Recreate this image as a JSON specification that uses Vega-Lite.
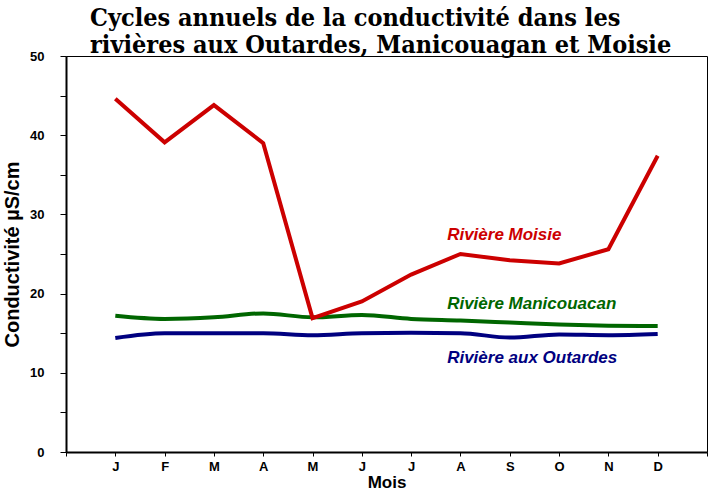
{
  "$schema": "https://vega.github.io/schema/vega-lite/v6.json",
  "width": 641,
  "height": 396,
  "autosize": {"type": "none"},
  "padding": {"left": 66, "top": 56, "right": 4, "bottom": 38},
  "background": "white",
  "title": {
    "text": ["Cycles annuels de la conductivité dans les", "rivières aux Outardes, Manicouagan et Moisie"],
    "anchor": "start",
    "frame": "group",
    "dx": 24,
    "offset": -8,
    "font": "DejaVu Serif Condensed",
    "fontSize": 25,
    "fontWeight": "bold",
    "color": "black",
    "lineHeight": 27
  },
  "config": {
    "view": {"stroke": "black", "strokeWidth": 1},
    "axis": {"grid": false, "domainColor": "black", "domainWidth": 2, "tickColor": "black", "labelColor": "black", "titleColor": "black", "labelFont": "Liberation Sans", "titleFont": "Liberation Sans", "labelFontWeight": "bold", "titleFontWeight": "bold"}
  },
  "datasets": {
    "series": [
      {"mois": 1, "riviere": "Moisie", "cond": 44.6},
      {"mois": 2, "riviere": "Moisie", "cond": 39.1},
      {"mois": 3, "riviere": "Moisie", "cond": 43.8},
      {"mois": 4, "riviere": "Moisie", "cond": 39.0},
      {"mois": 5, "riviere": "Moisie", "cond": 16.9},
      {"mois": 6, "riviere": "Moisie", "cond": 19.0},
      {"mois": 7, "riviere": "Moisie", "cond": 22.4},
      {"mois": 8, "riviere": "Moisie", "cond": 25.0},
      {"mois": 9, "riviere": "Moisie", "cond": 24.2},
      {"mois": 10, "riviere": "Moisie", "cond": 23.8},
      {"mois": 11, "riviere": "Moisie", "cond": 25.6},
      {"mois": 12, "riviere": "Moisie", "cond": 37.4},
      {"mois": 1, "riviere": "Manicouagan", "cond": 17.2},
      {"mois": 2, "riviere": "Manicouagan", "cond": 16.8},
      {"mois": 3, "riviere": "Manicouagan", "cond": 17.0},
      {"mois": 4, "riviere": "Manicouagan", "cond": 17.5},
      {"mois": 5, "riviere": "Manicouagan", "cond": 17.0},
      {"mois": 6, "riviere": "Manicouagan", "cond": 17.3},
      {"mois": 7, "riviere": "Manicouagan", "cond": 16.8},
      {"mois": 8, "riviere": "Manicouagan", "cond": 16.6},
      {"mois": 9, "riviere": "Manicouagan", "cond": 16.35},
      {"mois": 10, "riviere": "Manicouagan", "cond": 16.1},
      {"mois": 11, "riviere": "Manicouagan", "cond": 15.95},
      {"mois": 12, "riviere": "Manicouagan", "cond": 15.9},
      {"mois": 1, "riviere": "Outardes", "cond": 14.4},
      {"mois": 2, "riviere": "Outardes", "cond": 15.0},
      {"mois": 3, "riviere": "Outardes", "cond": 15.0},
      {"mois": 4, "riviere": "Outardes", "cond": 15.0},
      {"mois": 5, "riviere": "Outardes", "cond": 14.75},
      {"mois": 6, "riviere": "Outardes", "cond": 15.0},
      {"mois": 7, "riviere": "Outardes", "cond": 15.05},
      {"mois": 8, "riviere": "Outardes", "cond": 15.0},
      {"mois": 9, "riviere": "Outardes", "cond": 14.45},
      {"mois": 10, "riviere": "Outardes", "cond": 14.85},
      {"mois": 11, "riviere": "Outardes", "cond": 14.75},
      {"mois": 12, "riviere": "Outardes", "cond": 14.9}
    ],
    "labels": [
      {"riviere": "Moisie", "label": "Rivière Moisie", "mois": 7.73, "cond": 27.4},
      {"riviere": "Manicouagan", "label": "Rivière Manicouacan", "mois": 7.73, "cond": 18.7},
      {"riviere": "Outardes", "label": "Rivière aux Outardes", "mois": 7.73, "cond": 11.9}
    ]
  },
  "encoding": {
    "x": {
      "field": "mois", "type": "quantitative",
      "scale": {"domain": [0, 13], "nice": false, "zero": false},
      "axis": {
        "title": "Mois", "titleFontSize": 17, "titlePadding": 1,
        "values": [0,1,2,3,4,5,6,7,8,9,10,11,12,13],
        "labelExpr": "['','J','F','M','A','M','J','J','A','S','O','N','D',''][datum.value]",
        "labelFontSize": 13, "tickSize": 4, "labelPadding": 4, "labelFlush": false
      }
    },
    "y": {
      "field": "cond", "type": "quantitative",
      "scale": {"domain": [0, 50], "nice": false},
      "axis": {
        "title": "Conductivité µS/cm", "titleFontSize": 20, "titlePadding": 7,
        "values": [0,5,10,15,20,25,30,35,40,45,50],
        "labelExpr": "datum.value % 10 == 0 ? datum.label : ''",
        "labelFontSize": 13, "tickSize": 6, "labelPadding": 16
      }
    }
  },
  "layer": [
    {
      "data": {"name": "series"},
      "transform": [{"filter": "datum.riviere != 'Moisie'"}],
      "mark": {"type": "line", "strokeWidth": 4, "interpolate": "monotone"},
      "encoding": {
        "color": {"field": "riviere", "type": "nominal", "legend": null,
          "scale": {"domain": ["Moisie", "Manicouagan", "Outardes"], "range": ["#CC0000", "#006600", "#000080"]}}
      }
    },
    {
      "data": {"name": "series"},
      "transform": [{"filter": "datum.riviere == 'Moisie'"}],
      "mark": {"type": "line", "strokeWidth": 4},
      "encoding": {
        "color": {"field": "riviere", "type": "nominal", "legend": null,
          "scale": {"domain": ["Moisie", "Manicouagan", "Outardes"], "range": ["#CC0000", "#006600", "#000080"]}}
      }
    },
    {
      "data": {"name": "labels"},
      "mark": {"type": "text", "align": "left", "baseline": "middle", "font": "Liberation Sans", "fontSize": 17, "fontWeight": "bold", "fontStyle": "italic"},
      "encoding": {
        "text": {"field": "label"},
        "color": {"field": "riviere", "type": "nominal", "legend": null,
          "scale": {"domain": ["Moisie", "Manicouagan", "Outardes"], "range": ["#990000", "#006600", "#000080"]}}
      }
    }
  ]
}
